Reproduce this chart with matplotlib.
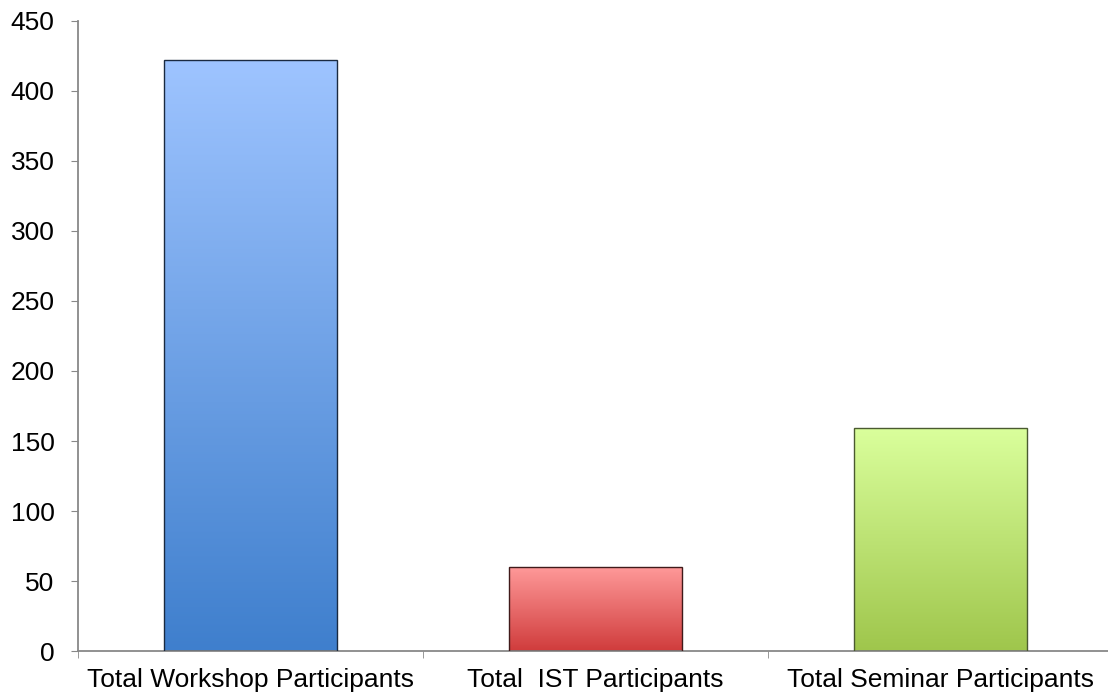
import numpy as np
import matplotlib.pyplot as plt
from matplotlib.colors import LinearSegmentedColormap

categories = ["Total Workshop Participants", "Total  IST Participants", "Total Seminar Participants"]
values = [422, 60, 159]
top_colors = ["#9ec4ff", "#ff9a9a", "#daff9c"]
bottom_colors = ["#3f7fcd", "#d03c3c", "#9fc64c"]
edge_colors = ["#1a2a40", "#401a1a", "#4a5a30"]

plt.rcParams['font.family'] = ['Liberation Sans', 'DejaVu Sans']

fig = plt.figure(figsize=(11.08, 6.95), dpi=100)
ax = fig.add_axes([0.0704, 0.0633, 0.9341, 0.9065])

x = np.arange(len(categories))
bars = ax.bar(x, values, width=0.5, color="none", edgecolor="none", zorder=3)

# gradient fill for each bar, clipped to the bar patch
grad = np.linspace(0, 1, 256).reshape(-1, 1)
for b, c_top, c_bot, ec in zip(bars, top_colors, bottom_colors, edge_colors):
    cmap = LinearSegmentedColormap.from_list("g", [c_bot, c_top])
    x0, y0 = b.get_x(), b.get_y()
    w, h = b.get_width(), b.get_height()
    im = ax.imshow(grad, cmap=cmap, aspect="auto", origin="lower",
                   extent=[x0, x0 + w, y0, y0 + h], zorder=2)
    im.set_clip_path(b)
    ax.add_patch(plt.Rectangle((x0, y0), w, h, fill=False, edgecolor=ec, linewidth=1.0, zorder=4))

ax.set_xlim(-0.5, 2.5)
ax.set_ylim(0, 450)
ax.set_yticks(np.arange(0, 451, 50))

ax.set_xticks(x)
ax.set_xticklabels(categories, fontsize=19)
ax.set_xticks([-0.5, 0.5, 1.5, 2.5], minor=True)
ax.tick_params(axis="x", which="major", length=0, pad=12)
ax.tick_params(axis="x", which="minor", length=5, color="#888888", direction="out")
ax.tick_params(axis="y", labelsize=19, length=5, color="#888888", pad=12)

for s in ["top", "right"]:
    ax.spines[s].set_visible(False)
for s in ["left", "bottom"]:
    ax.spines[s].set_color("#888888")
    ax.spines[s].set_linewidth(1.3)

fig.savefig("out.png", dpi=100)
